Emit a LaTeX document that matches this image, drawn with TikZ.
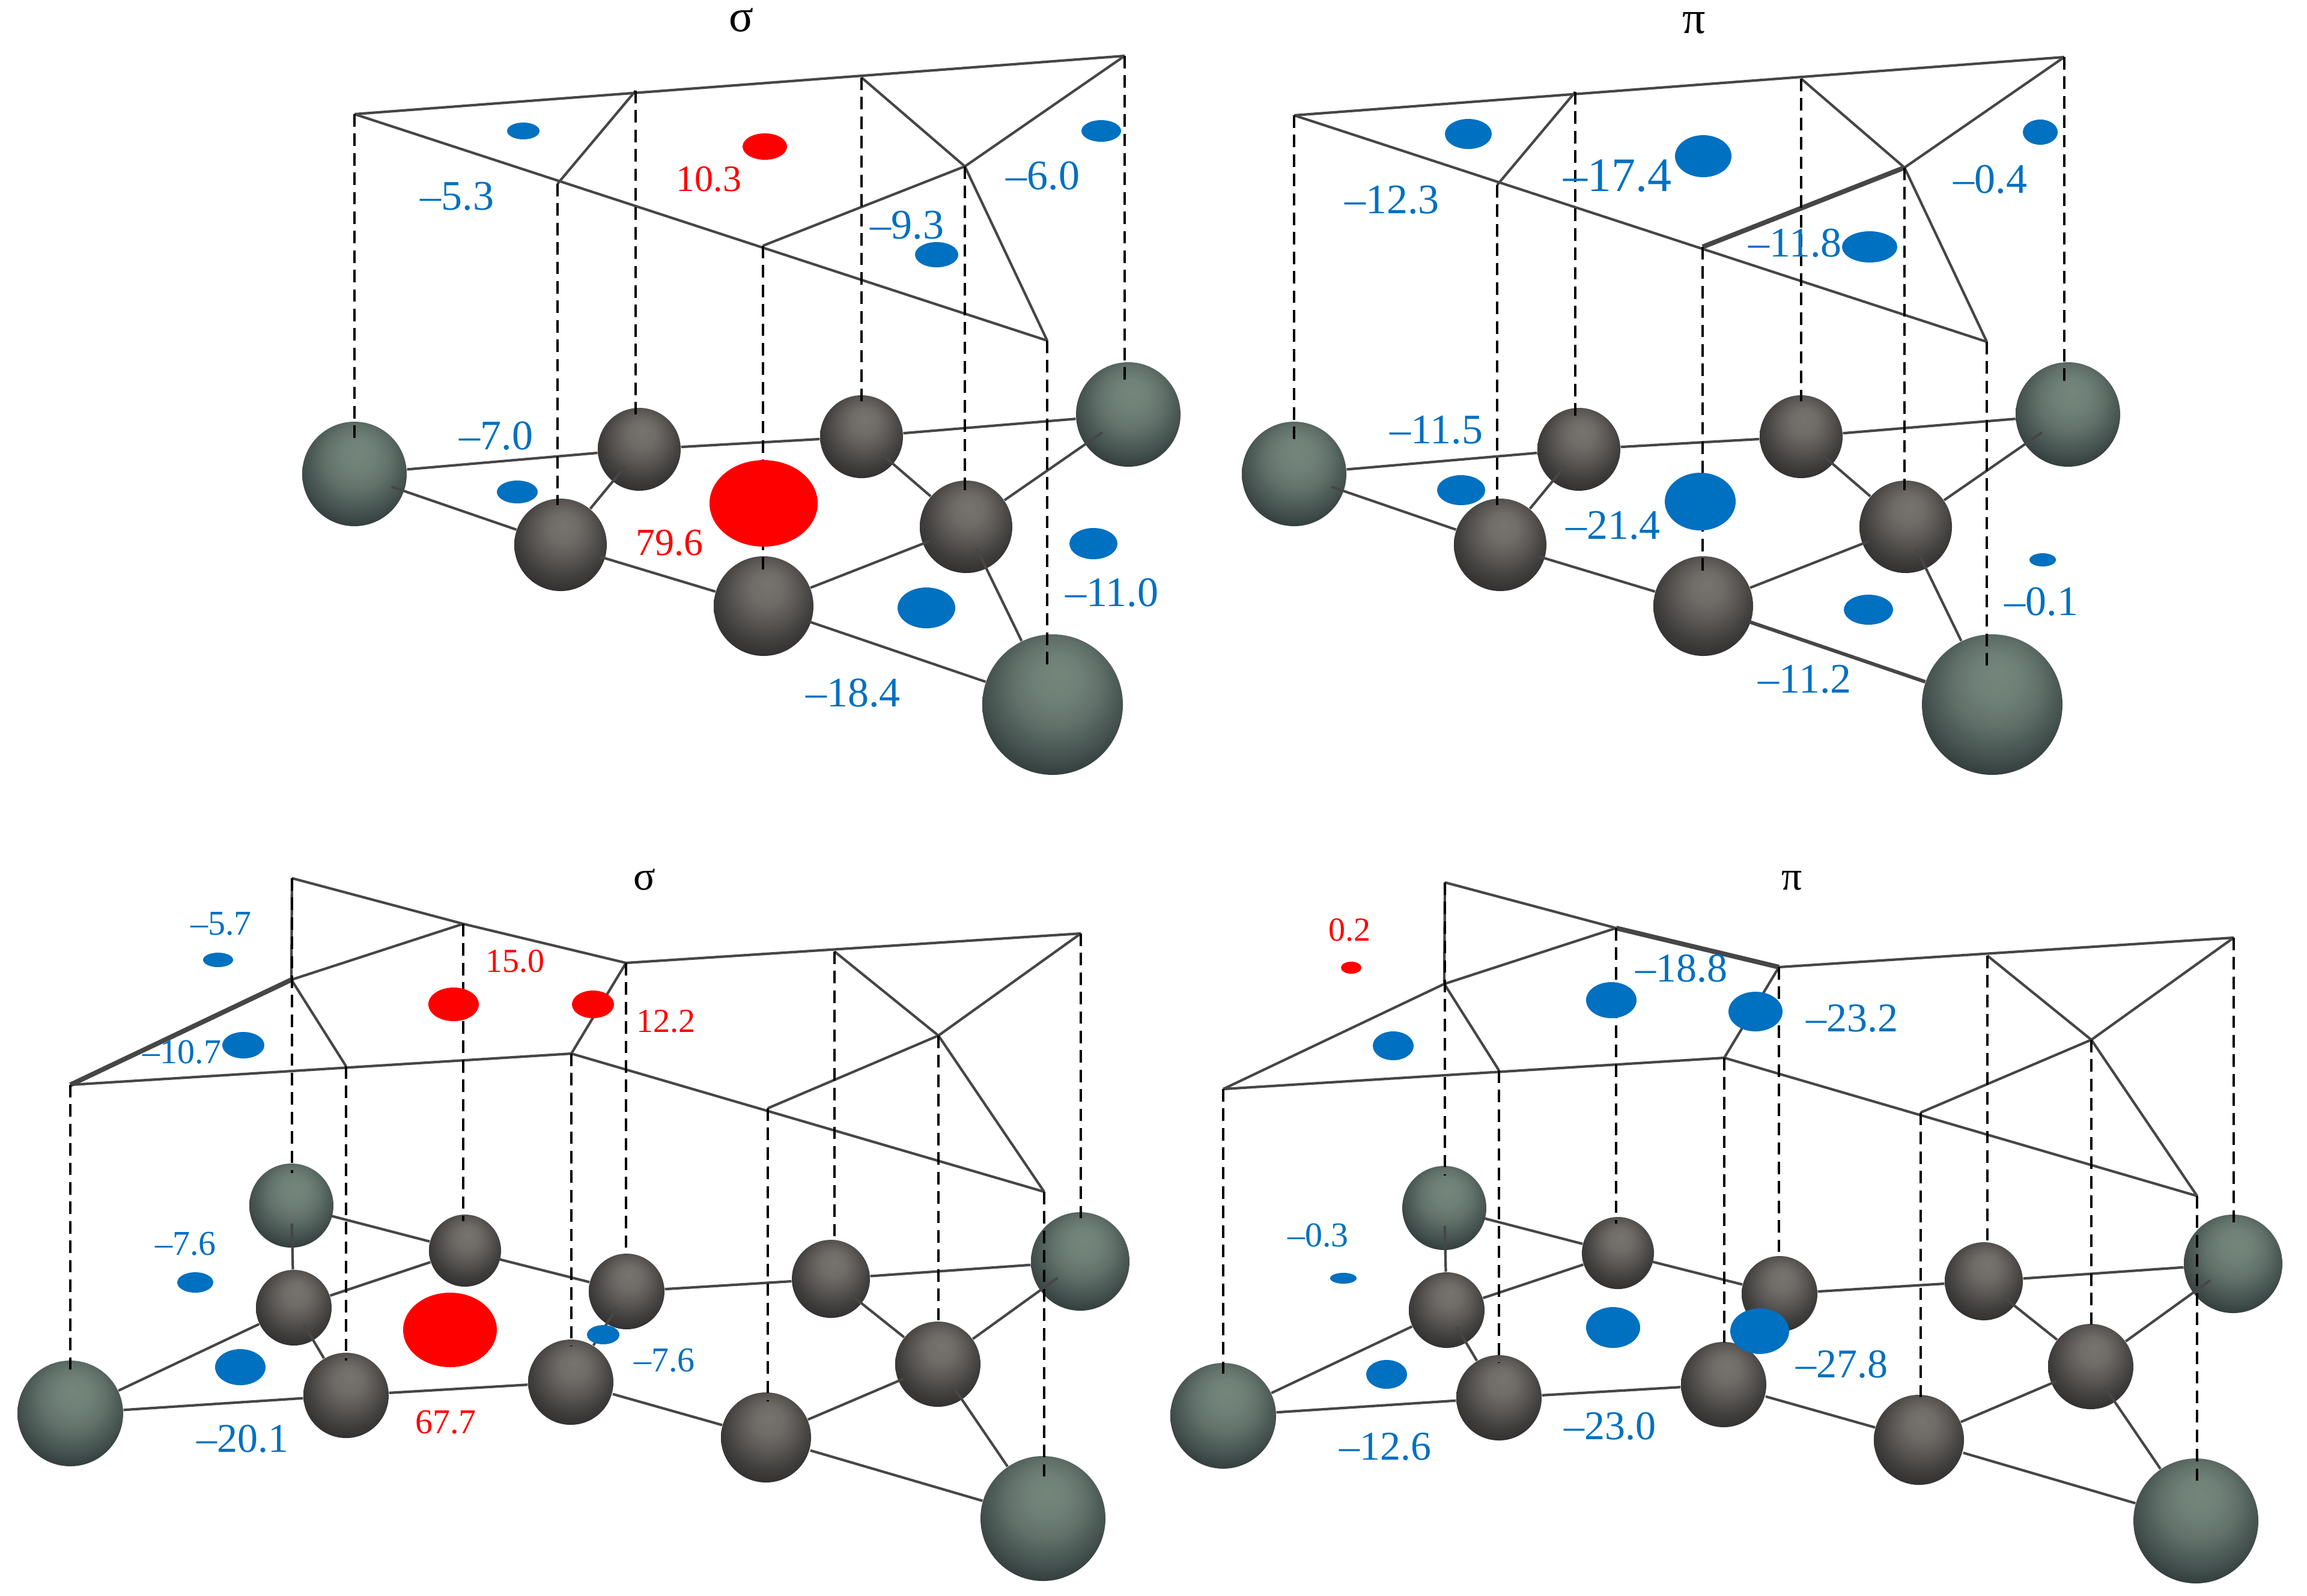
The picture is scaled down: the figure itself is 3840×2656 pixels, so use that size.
\documentclass[tikz,border=0pt]{standalone}
\usepackage{fontspec}
\setmainfont{Liberation Serif}
\usetikzlibrary{calc}
\definecolor{lobeblue}{HTML}{0070C0}
\definecolor{lobered}{HTML}{FF0000}
\definecolor{linegrey}{HTML}{464646}
\definecolor{tA}{HTML}{748579}\definecolor{tB}{HTML}{6F8078}\definecolor{tC}{HTML}{62726B}\definecolor{tD}{HTML}{465350}\definecolor{tE}{HTML}{2C3635}
\definecolor{dA}{HTML}{777470}\definecolor{dB}{HTML}{6F6C68}\definecolor{dC}{HTML}{5C5956}\definecolor{dD}{HTML}{403E3D}\definecolor{dE}{HTML}{2C2B2B}
\pgfdeclareradialshading{ballteal}{\pgfpoint{2bp}{11bp}}{color(0bp)=(tA);color(8bp)=(tB);color(15bp)=(tC);color(24bp)=(tD);color(32bp)=(tE);color(50bp)=(tE)}
\pgfdeclareradialshading{balldark}{\pgfpoint{2bp}{11bp}}{color(0bp)=(dA);color(8bp)=(dB);color(15bp)=(dC);color(24bp)=(dD);color(32bp)=(dE);color(50bp)=(dE)}
\pgfdeclarelayer{atA}\pgfdeclarelayer{boA}\pgfdeclarelayer{atB}\pgfdeclarelayer{boB}\pgfdeclarelayer{atC}\pgfdeclarelayer{boC}
\pgfdeclarelayer{atD}\pgfdeclarelayer{boD}\pgfdeclarelayer{atE}\pgfdeclarelayer{boE}\pgfdeclarelayer{atF}
\pgfsetlayers{atA,boA,atB,boB,atC,boC,atD,boD,atE,boE,atF,main}
\tikzset{
  atomteal/.style={circle,inner sep=0pt,shading=ballteal},
  atomdark/.style={circle,inner sep=0pt,shading=balldark},
  bondline/.style={draw=linegrey,line width=1.05pt},
  bondthick/.style={draw=linegrey,line width=1.5pt},
  frameline/.style={draw=linegrey,line width=1.05pt},
  framethick/.style={draw=linegrey,line width=2pt},
  dropline/.style={draw=black,line width=1pt,dash pattern=on 5.2pt off 2.9pt},
  blobblue/.style={fill=lobeblue},
  blobred/.style={fill=lobered},
  val/.style={inner sep=0pt,anchor=center}
}
\newcount\labn
\newcommand{\lab}[5]{\global\advance\labn by 1 \node[val,text=#3,font=\fontsize{#4pt}{#4pt}\selectfont] (lab\the\labn) at (#1,#2) {#5};}
\newcommand{\atom}[6]{\begin{pgfonlayer}{#1}\node[#3,minimum size=#6*0.25pt] (#2) at (#4,#5) {};\end{pgfonlayer}}
\newcommand{\tipto}[5]{\begin{pgfonlayer}{#1}\draw[#5] (#2) -- ($(#2)!#4!(#3)$);\end{pgfonlayer}}
\newcommand{\joint}[2]{\begin{pgfonlayer}{boA}\draw[bondline] (#1) -- (#2);\end{pgfonlayer}}
\newcommand{\blob}[5]{\fill[#1] (#2,#3) ellipse [x radius=#4,y radius=#5];}
\newcommand{\drop}[2]{\draw[dropline] (#1) -- (#1 |- 0,#2);}

% upper molecule: #1 prefix, #2 style of F-G, #3 style of a6-a8, #4 dy of the frame
\newcommand{\TopMol}[4]{%
  \atom{atA}{#1a1}{atomteal}{594}{794}{174}
  \atom{atA}{#1a2}{atomdark}{1068}{753}{138}
  \atom{atA}{#1a3}{atomdark}{1438}{732}{138}
  \atom{atA}{#1a4}{atomteal}{1882}{695}{174}
  \atom{atB}{#1a5}{atomdark}{937}{912}{154}
  \atom{atB}{#1a7}{atomdark}{1612}{882}{154}
  \atom{atC}{#1a6}{atomdark}{1275}{1014}{166}
  \atom{atD}{#1a8}{atomteal}{1756}{1178}{234}
  \joint{#1a1}{#1a2}\joint{#1a2}{#1a3}\joint{#1a3}{#1a4}
  \tipto{boA}{#1a5}{#1a1}{.82}{bondline}
  \tipto{boA}{#1a5}{#1a2}{.82}{bondline}
  \tipto{boA}{#1a7}{#1a3}{.81}{bondline}
  \tipto{boA}{#1a7}{#1a4}{.84}{bondline}
  \tipto{boB}{#1a6}{#1a5}{.81}{bondline}
  \tipto{boB}{#1a6}{#1a7}{.82}{bondline}
  \tipto{boC}{#1a8}{#1a7}{.877}{bondline}
  \tipto{boC}{#1a8}{#1a6}{.84}{#3}
  \begin{scope}[yshift={#4*-0.25pt}]
    \coordinate (#1A) at (594,190);
    \coordinate (#1B) at (1062,151);
    \coordinate (#1C) at (1438,129);
    \coordinate (#1D) at (1876,93);
    \coordinate (#1E) at (932,306);
    \coordinate (#1F) at (1274,409);
    \coordinate (#1G) at (1610,277);
    \coordinate (#1H) at (1747,567);
  \end{scope}
  \draw[frameline] (#1A) -- (#1D);
  \draw[frameline] (#1A) -- (#1H);
  \draw[frameline] (#1E) -- (#1B);
  \draw[#2] (#1F) -- (#1G);
  \draw[frameline] (#1G) -- (#1D);
  \draw[frameline] (#1C) -- (#1G);
  \draw[frameline] (#1G) -- (#1H);
  \drop{#1A}{736}\drop{#1B}{698}\drop{#1C}{673}\drop{#1D}{639}
  \drop{#1E}{846}\drop{#1F}{956}\drop{#1G}{821}\drop{#1H}{1117}
}
% lower molecule
\newcommand{\LowMol}[4]{%
  \atom{atA}{#1b1}{atomteal}{117}{2353}{176}
  \atom{atA}{#1b2}{atomteal}{485}{2007}{140}
  \atom{atA}{#1b8}{atomdark}{1383}{2129}{130}
  \atom{atA}{#1b9}{atomteal}{1798}{2100}{164}
  \atom{atB}{#1b3}{atomdark}{489}{2177}{126}
  \atom{atB}{#1b4}{atomdark}{774}{2082}{120}
  \atom{atB}{#1b10}{atomdark}{1561}{2271}{142}
  \atom{atC}{#1b5}{atomdark}{576}{2323}{142}
  \atom{atC}{#1b6}{atomdark}{1043}{2150}{126}
  \atom{atD}{#1b7}{atomdark}{950}{2301}{142}
  \atom{atE}{#1b11}{atomdark}{1275}{2393}{150}
  \atom{atF}{#1b12}{atomteal}{1736}{2528}{208}
  \joint{#1b1}{#1b3}\joint{#1b1}{#1b5}\joint{#1b3}{#1b4}\joint{#1b5}{#1b7}
  \joint{#1b6}{#1b8}\joint{#1b8}{#1b9}
  \tipto{boA}{#1b3}{#1b2}{.825}{bondline}
  \tipto{boA}{#1b4}{#1b2}{.78}{bondline}
  \tipto{boA}{#1b10}{#1b8}{.82}{bondline}
  \tipto{boA}{#1b10}{#1b9}{.84}{bondline}
  \tipto{boB}{#1b5}{#1b3}{.81}{bondline}
  \tipto{boB}{#1b6}{#1b4}{.79}{bondline}
  \tipto{boB}{#1b11}{#1b10}{.80}{bondline}
  \tipto{boB}{#1b12}{#1b10}{.866}{bondline}
  \tipto{boC}{#1b7}{#1b6}{.82}{bondline}
  \tipto{boD}{#1b11}{#1b7}{.785}{bondline}
  \tipto{boE}{#1b12}{#1b11}{.84}{bondline}
  \begin{scope}[yshift={#4*-0.25pt}]
    \coordinate (#1P1) at (117,1806);
    \coordinate (#1P2) at (486,1462);
    \coordinate (#1P3) at (485,1631);
    \coordinate (#1P4) at (771,1538);
    \coordinate (#1P5) at (1042,1603);
    \coordinate (#1P6) at (576,1775);
    \coordinate (#1P7) at (951,1754);
    \coordinate (#1P8) at (1278,1845);
    \coordinate (#1P9) at (1389,1584);
    \coordinate (#1P10) at (1799,1554);
    \coordinate (#1P11) at (1562,1724);
    \coordinate (#1P12) at (1738,1984);
  \end{scope}
  \draw[#2] (#1P1) -- (#1P3);
  \draw[frameline] (#1P3) -- (#1P4);
  \draw[frameline] (#1P2) -- (#1P3);
  \draw[frameline] (#1P2) -- (#1P4);
  \draw[#3] (#1P4) -- (#1P5);
  \draw[frameline] (#1P5) -- (#1P10);
  \draw[frameline] (#1P5) -- (#1P7);
  \draw[frameline] (#1P1) -- (#1P7);
  \draw[frameline] (#1P3) -- (#1P6);
  \draw[frameline] (#1P7) -- (#1P12);
  \draw[frameline] (#1P8) -- (#1P11);
  \draw[frameline] (#1P11) -- (#1P10);
  \draw[frameline] (#1P9) -- (#1P11);
  \draw[frameline] (#1P11) -- (#1P12);
  \drop{#1P1}{2285}\drop{#1P2}{1953}\drop{#1P4}{2033}\drop{#1P5}{2089}
  \drop{#1P6}{2265}\drop{#1P7}{2241}\drop{#1P8}{2333}\drop{#1P9}{2065}
  \drop{#1P10}{2039}\drop{#1P11}{2209}\drop{#1P12}{2465}
}
\begin{document}
\begin{tikzpicture}[x=0.25pt,y=-0.25pt]
\useasboundingbox (0,0) rectangle (3840,2656);
% ---------- upper left
\begin{scope}[shift={(-4,-5)}]
\TopMol{s}{frameline}{bondline}{5}
\end{scope}
\begin{scope}[shift={(-4,-3)}]
\blob{blobblue}{875}{221}{27}{14}
\blob{blobred}{1277}{247}{37}{22}
\blob{blobblue}{1837}{221}{33}{18}
\blob{blobblue}{1563}{427}{36}{21}
\blob{blobblue}{865}{822}{34}{19}
\blob{blobred}{1275}{841}{90}{72}
\blob{blobblue}{1824}{908}{40}{26}
\blob{blobblue}{1546}{1015}{48}{34}
\lab{1238}{36}{black}{19}{σ}
\lab{765}{330}{lobeblue}{17.5}{–5.3}
\lab{1184}{301}{lobered}{15.5}{10.3}
\lab{1740}{296}{lobeblue}{17.5}{–6.0}
\lab{1514}{378}{lobeblue}{17.5}{–9.3}
\lab{830}{729}{lobeblue}{17.5}{–7.0}
\lab{1118}{907}{lobered}{16}{79.6}
\lab{1855}{990}{lobeblue}{17.5}{–11.0}
\lab{1424}{1157}{lobeblue}{17.5}{–18.4}
\end{scope}
% ---------- upper right
\begin{scope}[shift={(1560,-5)}]
\TopMol{p}{framethick}{bondthick}{7}
\end{scope}
\begin{scope}[shift={(-4,-3)}]
\blob{blobblue}{2448}{226}{39}{25}
\blob{blobblue}{2839}{263}{47}{35}
\blob{blobblue}{3400}{223}{29}{21}
\blob{blobblue}{3116}{414}{46}{26}
\blob{blobblue}{2436}{819}{40}{25}
\blob{blobblue}{2834}{838}{59}{48}
\blob{blobblue}{3404}{935}{22}{11}
\blob{blobblue}{3114}{1018}{41}{25}
\lab{2824}{41}{black}{19}{π}
\lab{2321}{336}{lobeblue}{17.5}{–12.3}
\lab{2696}{296}{lobeblue}{20}{–17.4}
\lab{3317}{302}{lobeblue}{17.5}{–0.4}
\lab{2992}{408}{lobeblue}{17.5}{–11.8}
\lab{2395}{719}{lobeblue}{17.5}{–11.5}
\lab{2689}{878}{lobeblue}{17.5}{–21.4}
\lab{3402}{1005}{lobeblue}{17.5}{–0.1}
\lab{3008}{1134}{lobeblue}{17.5}{–11.2}
\end{scope}
% ---------- lower left
\LowMol{u}{framethick}{frameline}{0}
\blob{blobblue}{363}{1598}{25}{12}
\blob{blobblue}{405}{1740}{35}{22}
\blob{blobred}{755}{1672}{42}{28}
\blob{blobred}{987}{1672}{35}{23}
\blob{blobblue}{325}{2135}{30}{17}
\blob{blobblue}{400}{2276}{42}{30}
\blob{blobred}{749}{2214}{78}{62}
\blob{blobblue}{1004}{2222}{27}{16}
\lab{1073}{1464}{black}{17}{σ}
\lab{368}{1538}{lobeblue}{14.5}{–5.7}
\lab{857}{1600}{lobered}{14}{15.0}
\lab{1108}{1700}{lobered}{14}{12.2}
\lab{303}{1752}{lobeblue}{14.5}{–10.7}
\lab{309}{2071}{lobeblue}{14.5}{–7.6}
\lab{1106}{2265}{lobeblue}{14.5}{–7.6}
\lab{404}{2395}{lobeblue}{17}{–20.1}
\lab{742}{2368}{lobered}{14.5}{67.7}
% ---------- lower right
\begin{scope}[shift={(1919,4)}]
\LowMol{v}{frameline}{framethick}{3}
\end{scope}
\blob{blobred}{2249}{1611}{17}{10}
\blob{blobblue}{2682}{1665}{42}{30}
\blob{blobblue}{2922}{1684}{45}{33}
\blob{blobblue}{2319}{1741}{34}{24}
\blob{blobblue}{2236}{2128}{22}{9}
\blob{blobblue}{2685}{2210}{45}{34}
\blob{blobblue}{2929}{2216}{49}{38}
\blob{blobblue}{2308}{2288}{34}{24}
\lab{2983}{1466}{black}{17}{π}
\lab{2246}{1548}{lobered}{14}{0.2}
\lab{2799}{1612}{lobeblue}{17}{–18.8}
\lab{3083}{1695}{lobeblue}{17}{–23.2}
\lab{2194}{2057}{lobeblue}{14.5}{–0.3}
\lab{3066}{2271}{lobeblue}{17}{–27.8}
\lab{2680}{2374}{lobeblue}{17}{–23.0}
\lab{2306}{2408}{lobeblue}{17}{–12.6}
\end{tikzpicture}
\end{document}
